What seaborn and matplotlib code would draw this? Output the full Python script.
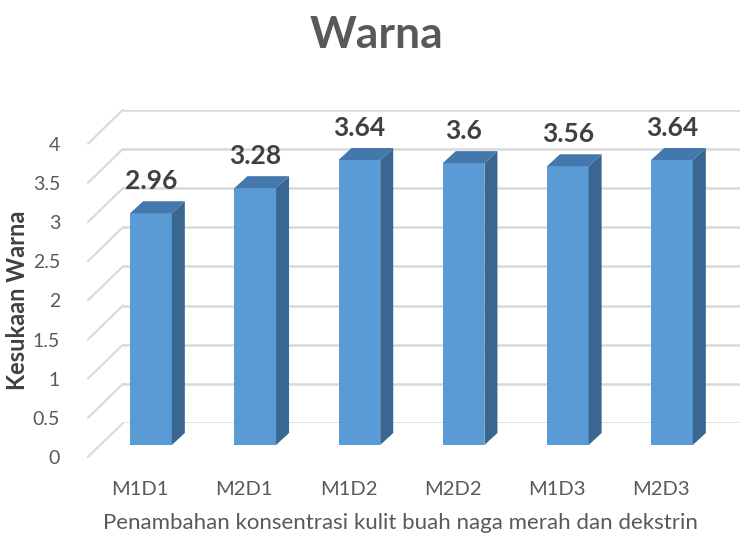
import numpy as np
import pandas as pd
import seaborn as sns
import matplotlib
matplotlib.use("Agg")
import matplotlib.pyplot as plt
from matplotlib.patches import Polygon, ConnectionPatch

# ---- data ----
categories = ["M1D1", "M2D1", "M1D2", "M2D2", "M1D3", "M2D3"]
values = [2.96, 3.28, 3.64, 3.6, 3.56, 3.64]
value_labels = ["2.96", "3.28", "3.64", "3.6", "3.56", "3.64"]
y_ticks = [0, 0.5, 1, 1.5, 2, 2.5, 3, 3.5, 4]
y_tick_labels = ["0", "0.5", "1", "1.5", "2", "2.5", "3", "3.5", "4"]
title = "Warna"
x_title = "Penambahan konsentrasi kulit buah naga merah dan dekstrin"
y_title = "Kesukaan Warna"

sns.set_style("white")
plt.rcParams["font.family"] = ["Lato", "DejaVu Sans"]

W, H = 740, 542
fig = plt.figure(figsize=(W / 100, H / 100), dpi=100)

AX_W, AX_H = 625.2, 313.2


def rect(left_px, zero_px):
    return [left_px / W, (H - zero_px) / H, AX_W / W, AX_H / H]


# back wall (gridlines), floor front (labels), bar front plane (bars)
ax_back = fig.add_axes(rect(122.9, 423))
ax_floor = fig.add_axes(rect(87.9, 457))
ax = fig.add_axes(rect(98.9, 445))

grid_c = "#d9d9d9"
for a in (ax_back, ax_floor, ax):
    a.set_xlim(-0.5, len(categories) - 0.5)
    a.set_ylim(0, 4)
    a.patch.set_alpha(0)
    for s in a.spines.values():
        s.set_visible(False)

# back wall gridlines
ax_back.set_xticks([])
ax_back.set_yticks([])
for v in y_ticks:
    ax_back.axhline(v, color=grid_c, lw=1.8, zorder=0)

# diagonal side lines from floor front to back wall
for v in y_ticks:
    con = ConnectionPatch(xyA=(-0.5, v), coordsA=ax_floor.transData,
                          xyB=(-0.5, v), coordsB=ax_back.transData,
                          color=grid_c, lw=1.5)
    fig.add_artist(con)

# floor axes carries tick labels
text_c = "#595959"
ax_floor.set_yticks(y_ticks)
ax_floor.set_yticklabels(y_tick_labels, fontsize=14, color=text_c)
ax_floor.set_xticks(range(len(categories)))
ax_floor.set_xticklabels(categories, fontsize=14.5, color=text_c)
ax_floor.tick_params(axis="y", length=0, pad=20)
ax_floor.tick_params(axis="x", length=0, pad=17)
ax_floor.set_xlabel(x_title, fontsize=16, color=text_c, labelpad=11)
ax_floor.set_ylabel(y_title, fontsize=17, fontweight="bold", color="#404040", labelpad=3)

# bars (front plane)
df = pd.DataFrame({"cat": categories, "val": values})
sns.barplot(data=df, x="cat", y="val", ax=ax, width=0.4, color="#5b9bd5",
            saturation=1, edgecolor="none", zorder=3)
ax.set_xlim(-0.5, len(categories) - 0.5)
ax.set_ylim(0, 4)
ax.set_xlabel("")
ax.set_ylabel("")
ax.set_xticks([])
ax.set_yticks([])

ppx = AX_W / len(categories)
ppy = AX_H / 4
ddx, ddy = 13 / ppx, 12 / ppy
side_c = "#3a6792"
top_c = "#4477ab"
for p, lab in zip(ax.patches, value_labels):
    x0 = p.get_x()
    w = p.get_width()
    h = p.get_height()
    side = Polygon([(x0 + w, 0), (x0 + w + ddx, ddy), (x0 + w + ddx, h + ddy), (x0 + w, h)],
                   closed=True, facecolor=side_c, edgecolor="none", zorder=3)
    top = Polygon([(x0, h), (x0 + w, h), (x0 + w + ddx, h + ddy), (x0 + ddx, h + ddy)],
                  closed=True, facecolor=top_c, edgecolor="none", zorder=3)
    ax.add_patch(side)
    ax.add_patch(top)
    ax.annotate(lab, (x0 + w / 2, h + ddy), xytext=(0, 8.5), textcoords="offset points",
                ha="center", va="baseline", fontsize=19, fontweight="bold",
                color="#404040", annotation_clip=False)

fig.text(377 / W, 1 - 35 / H, title, ha="center", va="center", fontsize=32,
         fontweight="bold", color=text_c)

fig.savefig("out.png", dpi=100)
